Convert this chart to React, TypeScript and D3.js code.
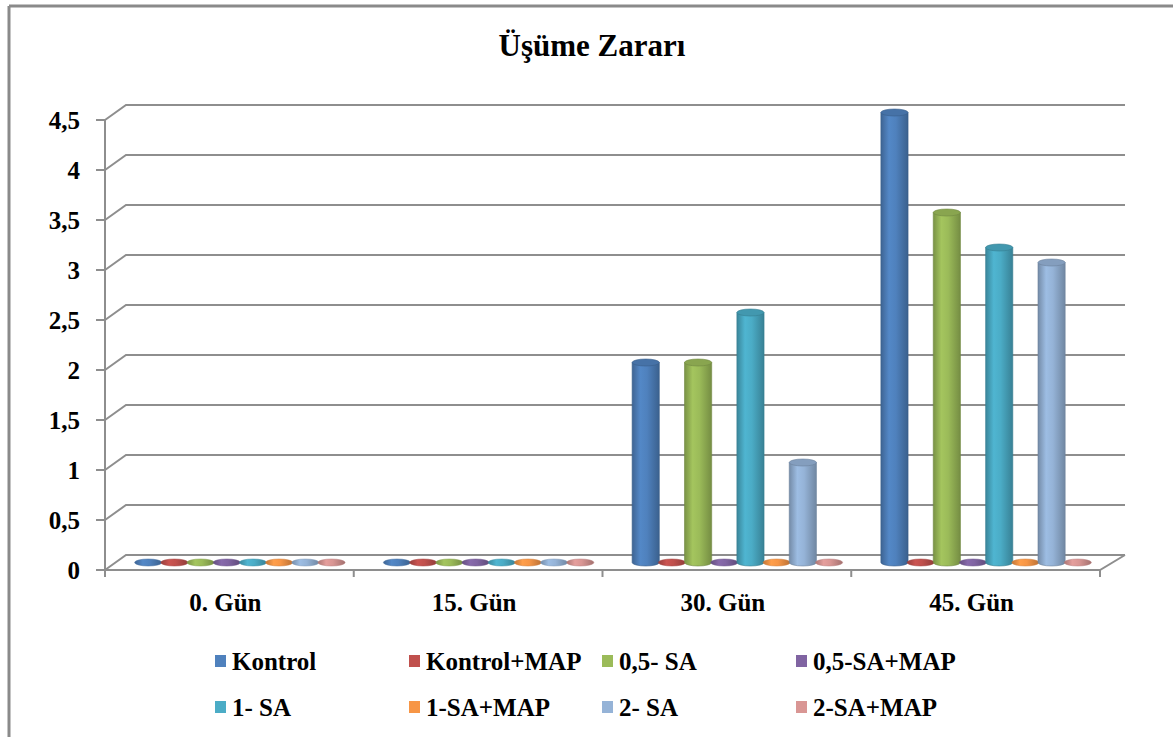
import React from "react";
import * as d3 from "d3";

const title = "Üşüme Zararı";
const categories = ["0. Gün", "15. Gün", "30. Gün", "45. Gün"];
const seriesNames = ["Kontrol", "Kontrol+MAP", "0,5- SA", "0,5-SA+MAP", "1- SA", "1-SA+MAP", "2- SA", "2-SA+MAP"];
const seriesColors = ["#4F81BD", "#C0504D", "#9BBB59", "#8064A2", "#4BACC6", "#F79646", "#95B3D7", "#D99694"];
const kontrol = [0, 0, 2, 4.5];
const kontrolMap = [0, 0, 0, 0];
const sa05 = [0, 0, 2, 3.5];
const sa05Map = [0, 0, 0, 0];
const sa1 = [0, 0, 2.5, 3.15];
const sa1Map = [0, 0, 0, 0];
const sa2 = [0, 0, 1, 3];
const sa2Map = [0, 0, 0, 0];
const seriesValues = [kontrol, kontrolMap, sa05, sa05Map, sa1, sa1Map, sa2, sa2Map];
const yTicks = [0, 0.5, 1, 1.5, 2, 2.5, 3, 3.5, 4, 4.5];

const W = 1173, H = 737;
const x0 = 105, x1 = 1100;
const yTop = 120, yBase = 570;
const dX = 21, dY = -15;
const FONT = "Liberation Serif, Tinos, DejaVu Serif, Noto Serif, FreeSerif, Times New Roman, serif";
const GRID = "#8e8e8e";

const locale = d3.formatLocale({ decimal: ",", thousands: ".", grouping: [3], currency: ["", ""] });
const fmt = locale.format("~g");

export default function App() {
  const y = d3.scaleLinear().domain([0, 4.5]).range([yBase, yTop]);
  const xCat = d3.scaleBand().domain(categories).range([x0, x1]).paddingInner(0).paddingOuter(0);
  const bw = xCat.bandwidth() / 9.5;
  const xSer = d3.scaleBand().domain(seriesNames).range([0.75 * bw, xCat.bandwidth() - 0.75 * bw]).padding(0);
  const rx = bw / 2 + 0.5;
  const ry = 3.5;
  const midX = dX / 2, midY = dY / 2;

  const legendCols = [215, 409, 602, 796];
  const legendRows = [661, 707];

  return (
    <svg width={W} height={H} style={{ position: "absolute", left: 0, top: 0, background: "#fff" }}>
      <defs>
        {seriesColors.map((c, i) => {
          const col = d3.color(c)!;
          return (
            <linearGradient key={i} id={`g${i}`} x1="0" x2="1" y1="0" y2="0">
              <stop offset="0%" stopColor={col.darker(0.7).formatHex()} />
              <stop offset="30%" stopColor={col.brighter(0.15).formatHex()} />
              <stop offset="55%" stopColor={col.formatHex()} />
              <stop offset="100%" stopColor={col.darker(0.8).formatHex()} />
            </linearGradient>
          );
        })}
      </defs>
      <rect x={0} y={0} width={W} height={H} fill="#fff" />
      <line x1={9} y1={6} x2={W} y2={6} stroke="#8a8a8a" strokeWidth={3} />
      <line x1={9} y1={6} x2={9} y2={H} stroke="#8a8a8a" strokeWidth={3} />

      <text x={592} y={56} textAnchor="middle" fontFamily={FONT} fontWeight="bold" fontSize={31} fill="#000">{title}</text>

      {yTicks.map((t) => (
        <g key={t}>
          <polyline
            points={`${x0},${y(t)} ${x0 + dX},${y(t) + dY} ${x1 + dX + 4},${y(t) + dY}`}
            fill="none" stroke={GRID} strokeWidth={2}
          />
          <line x1={x0 - 9} x2={x0} y1={y(t)} y2={y(t)} stroke={GRID} strokeWidth={2} />
          <text x={80} y={y(t)} dy="0.35em" textAnchor="end" fontFamily={FONT} fontWeight="bold" fontSize={25} fill="#000">{fmt(t)}</text>
        </g>
      ))}
      <line x1={x0} x2={x0} y1={yTop} y2={yBase} stroke={GRID} strokeWidth={2} />
      <polyline points={`${x0},${yBase} ${x1},${yBase} ${x1 + dX + 4},${yBase + dY}`} fill="none" stroke={GRID} strokeWidth={2} />
      {[...categories.map((c) => xCat(c)!), x1].map((xx, i) => (
        <line key={i} x1={xx} x2={xx} y1={yBase} y2={yBase + 7} stroke={GRID} strokeWidth={2} />
      ))}
      {categories.map((c) => (
        <text key={c} x={xCat(c)! + xCat.bandwidth() / 2 - 4} y={611} textAnchor="middle" fontFamily={FONT} fontWeight="bold" fontSize={25} fill="#000">{c}</text>
      ))}

      {categories.map((c, ci) =>
        seriesNames.map((s, si) => {
          const v = seriesValues[si][ci];
          const cx = xCat(c)! + xSer(s)! + xSer.bandwidth() / 2 + midX;
          const base = y(0) + midY;
          const top = y(v) + midY;
          const col = d3.color(seriesColors[si])!;
          if (v <= 0) {
            return (
              <ellipse key={`${ci}-${si}`} cx={cx} cy={base} rx={rx} ry={ry} fill={`url(#g${si})`} stroke={col.darker(0.5).formatHex()} strokeWidth={0.5} />
            );
          }
          const l = cx - rx, r = cx + rx;
          const body = `M${l},${top} L${l},${base} A${rx},${ry} 0 0 0 ${r},${base} L${r},${top} Z`;
          return (
            <g key={`${ci}-${si}`}>
              <path d={body} fill={`url(#g${si})`} stroke={col.darker(0.9).formatHex()} strokeWidth={0.6} />
              <ellipse cx={cx} cy={top} rx={rx} ry={ry} fill={col.darker(0.35).formatHex()} stroke={col.darker(0.9).formatHex()} strokeWidth={0.6} />
            </g>
          );
        })
      )}

      {seriesNames.map((s, i) => {
        const lx = legendCols[i % 4];
        const ly = legendRows[Math.floor(i / 4)];
        return (
          <g key={s}>
            <rect x={lx} y={ly - 6} width={11} height={12} fill={seriesColors[i]} />
            <text x={lx + 17} y={ly} dy="0.35em" fontFamily={FONT} fontWeight="bold" fontSize={25} fill="#000">{s}</text>
          </g>
        );
      })}
    </svg>
  );
}
